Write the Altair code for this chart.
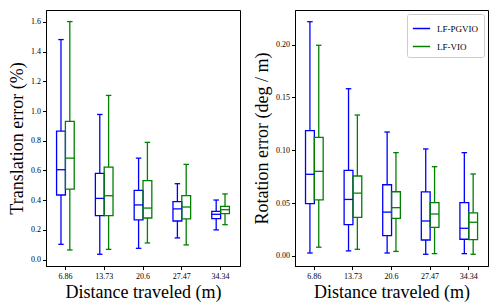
import altair as alt
import pandas as pd

dists = ["6.86", "13.73", "20.6", "27.47", "34.34"]
series = ["LF-PGVIO", "LF-VIO"]
colors = ["#0000ff", "#008000"]

# Translation error (%)
pg_t_lo = [0.103, 0.036, 0.076, 0.146, 0.200]
pg_t_q1 = [0.435, 0.296, 0.267, 0.260, 0.276]
pg_t_med = [0.605, 0.412, 0.368, 0.341, 0.305]
pg_t_q3 = [0.865, 0.580, 0.466, 0.390, 0.325]
pg_t_hi = [1.481, 0.977, 0.683, 0.511, 0.401]
vio_t_lo = [0.065, 0.069, 0.112, 0.099, 0.235]
vio_t_q1 = [0.475, 0.296, 0.280, 0.274, 0.309]
vio_t_med = [0.683, 0.430, 0.347, 0.354, 0.336]
vio_t_q3 = [0.930, 0.623, 0.531, 0.430, 0.358]
vio_t_hi = [1.602, 1.105, 0.789, 0.641, 0.442]

# Rotation error (deg / m)
pg_r_lo = [0.0028, 0.0048, 0.0028, 0.0016, 0.0022]
pg_r_q1 = [0.0495, 0.0296, 0.0192, 0.0151, 0.0158]
pg_r_med = [0.0773, 0.0535, 0.0415, 0.0331, 0.0262]
pg_r_q3 = [0.1186, 0.0811, 0.0674, 0.0606, 0.0505]
pg_r_hi = [0.2217, 0.1583, 0.1173, 0.1013, 0.0978]
vio_r_lo = [0.0083, 0.0063, 0.0043, 0.0022, 0.0016]
vio_r_q1 = [0.0530, 0.0365, 0.0355, 0.0271, 0.0154]
vio_r_med = [0.0801, 0.0595, 0.0457, 0.0397, 0.0319]
vio_r_q3 = [0.1123, 0.0757, 0.0608, 0.0505, 0.0407]
vio_r_hi = [0.1994, 0.1334, 0.0978, 0.0845, 0.0776]

t_ticks = [0.0, 0.2, 0.4, 0.6, 0.8, 1.0, 1.2, 1.4, 1.6]
r_ticks = [0.0, 0.05, 0.10, 0.15, 0.20]


def make_df(pg, vio):
    rows = []
    for s, stats in zip(series, [pg, vio]):
        lo, q1, med, q3, hi = stats
        for i, d in enumerate(dists):
            rows.append(dict(dist=d, series=s, lo=lo[i], q1=q1[i], med=med[i], q3=q3[i], hi=hi[i]))
    return pd.DataFrame(rows)


df_t = make_df([pg_t_lo, pg_t_q1, pg_t_med, pg_t_q3, pg_t_hi],
               [vio_t_lo, vio_t_q1, vio_t_med, vio_t_q3, vio_t_hi])
df_r = make_df([pg_r_lo, pg_r_q1, pg_r_med, pg_r_q3, pg_r_hi],
               [vio_r_lo, vio_r_q1, vio_r_med, vio_r_q3, vio_r_hi])

FONT = "'Liberation Serif', 'DejaVu Serif', serif"


def panel(df, ytitle, domain, ticks, fmt, width, show_legend):
    if show_legend:
        legend = alt.Legend(title=None, orient="top-right", offset=4, strokeColor="#cccccc",
                            fillColor="white", padding=5, cornerRadius=2, labelFont=FONT,
                            labelFontSize=9, labelColor="black", symbolType="stroke",
                            symbolSize=300, symbolStrokeWidth=1.5, rowPadding=3, labelOffset=6)
    else:
        legend = None
    base = alt.Chart(df).encode(
        x=alt.X("dist:N", sort=dists,
                scale=alt.Scale(paddingInner=0.545, paddingOuter=0.2725),
                axis=alt.Axis(title="Distance traveled (m)", labelAngle=0)),
        xOffset=alt.XOffset("series:N", sort=series,
                            scale=alt.Scale(paddingInner=0, paddingOuter=0)),
        color=alt.Color("series:N", sort=series,
                        scale=alt.Scale(domain=series, range=colors), legend=legend),
    )
    yscale = alt.Scale(domain=domain, nice=False, zero=False)
    yaxis = alt.Axis(title=ytitle, values=ticks, format=fmt, labelOverlap=False)
    wlo = base.mark_rule(strokeWidth=1.3).encode(y=alt.Y("lo:Q", scale=yscale, axis=yaxis), y2="q1:Q")
    whi = base.mark_rule(strokeWidth=1.3).encode(y=alt.Y("q3:Q", axis=yaxis), y2="hi:Q")
    box = base.mark_bar(filled=False, strokeWidth=1.3).encode(y=alt.Y("q1:Q", axis=yaxis), y2="q3:Q")
    med = base.mark_tick(thickness=1.3, size=8.8, opacity=1).encode(y=alt.Y("med:Q", axis=yaxis))
    clo = base.mark_tick(thickness=1.3, size=5.5, opacity=1).encode(y=alt.Y("lo:Q", axis=yaxis))
    chi = base.mark_tick(thickness=1.3, size=5.5, opacity=1).encode(y=alt.Y("hi:Q", axis=yaxis))
    return alt.layer(wlo, whi, box, med, clo, chi).properties(width=width, height=256)


left = panel(df_t, "Translation error (%)", [-0.043, 1.68], t_ticks, ".1f", 194, False)
right = panel(df_r, "Rotation error (deg / m)", [-0.0095, 0.2328], r_ticks, ".2f", 193, True)

chart = alt.hconcat(left, right, spacing=12).resolve_scale(color="independent").configure(
    padding={"left": 0, "top": 1, "right": 0, "bottom": 0},
).configure_view(
    stroke="black", strokeWidth=1
).configure_axis(
    grid=False, domainColor="black", tickColor="black", tickSize=3.5,
    labelFont=FONT, labelFontSize=8, labelColor="black", labelPadding=2, labelOverlap=False,
    titleFont=FONT, titleFontSize=18, titleFontWeight="normal", titleColor="black",
    titlePadding=4,
).configure_axisX(
    titlePadding=3, labelPadding=3
)

chart.save("out.html", embed_options={"renderer": "svg", "actions": False})
